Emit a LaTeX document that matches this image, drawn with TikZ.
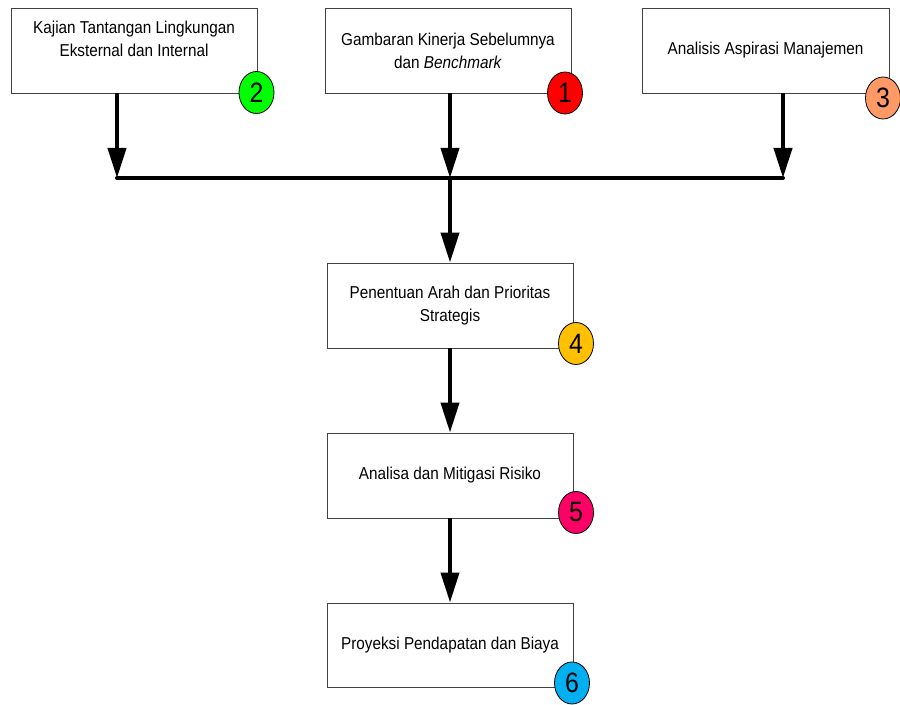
\documentclass[tikz,border=0pt]{standalone}
\usepackage{fontspec}
\setmainfont[FakeStretch=0.89]{Liberation Sans}
\usetikzlibrary{shapes.geometric,arrows.meta}
\definecolor{cgreen}{HTML}{00FF00}
\definecolor{cred}{HTML}{FF0000}
\definecolor{corange}{HTML}{FF9966}
\definecolor{cgold}{HTML}{FFC000}
\definecolor{cpink}{HTML}{FF0066}
\definecolor{cblue}{HTML}{00B0F0}
\begin{document}
\begin{tikzpicture}[x=0.75pt,y=-0.75pt,
  box/.style={draw=black!75,line width=0.7pt,fill=white,rectangle,minimum width=184.5pt,minimum height=63.75pt,inner sep=0pt},
  lbl/.style={align=center,font=\fontsize{12.9}{17.25}\selectfont,inner sep=0pt},
  badge/.style={draw=black,line width=0.6pt,ellipse,minimum width=26.25pt,minimum height=31.5pt,inner sep=0pt,font=\fontsize{21}{21}\selectfont},
  flow/.style={line width=3pt,-{Triangle[width=13.5pt,length=22.5pt]}},
  barline/.style={line width=3pt,line cap=round}]
\useasboundingbox (0,0) rectangle (900,705);

% boxes
\node[box] (b2) at (134,50.5) {};
\node[lbl] (t2) at (134,38.5) {Kajian Tantangan Lingkungan\\Eksternal dan Internal};
\node[box,lbl] (b1) at (448,50.5) {Gambaran Kinerja Sebelumnya\\dan \textit{Benchmark}};
\node[box,lbl,minimum width=185.25pt] (b3) at (765.5,50.5) {Analisis Aspirasi Manajemen};
\node[box,lbl] (b4) at (450,305.5) {Penentuan Arah dan Prioritas\\Strategis};
\node[box,lbl] (b5) at (450,475.5) {Analisa dan Mitigasi Risiko};
\node[box,lbl,minimum height=63pt] (b6) at (450,645) {Proyeksi Pendapatan dan Biaya};

% junction points
\coordinate (j2) at (117,178);
\coordinate (j1) at (450,178);
\coordinate (j3) at (783,178);

% connectors
\draw[flow] (b2.south -| j2) -- (j2);
\draw[flow] (b1.south -| j1) -- (j1);
\draw[flow] (b3.south -| j3) -- (j3);
\draw[barline] (j2) -- (j3);
\draw[flow] (j1) -- (b4.north);
\draw[flow] (b4) -- (b5);
\draw[flow] (b5) -- (b6);

% badges
\node[badge,fill=cgreen] (n2) at (256.5,92.5) {2};
\node[badge,fill=cred] (n1) at (565,93) {1};
\node[badge,fill=corange] (n3) at (883,98) {3};
\node[badge,fill=cgold] (n4) at (576,343.5) {4};
\node[badge,fill=cpink] (n5) at (576,512.5) {5};
\node[badge,fill=cblue] (n6) at (572,683) {6};
\end{tikzpicture}
\end{document}
